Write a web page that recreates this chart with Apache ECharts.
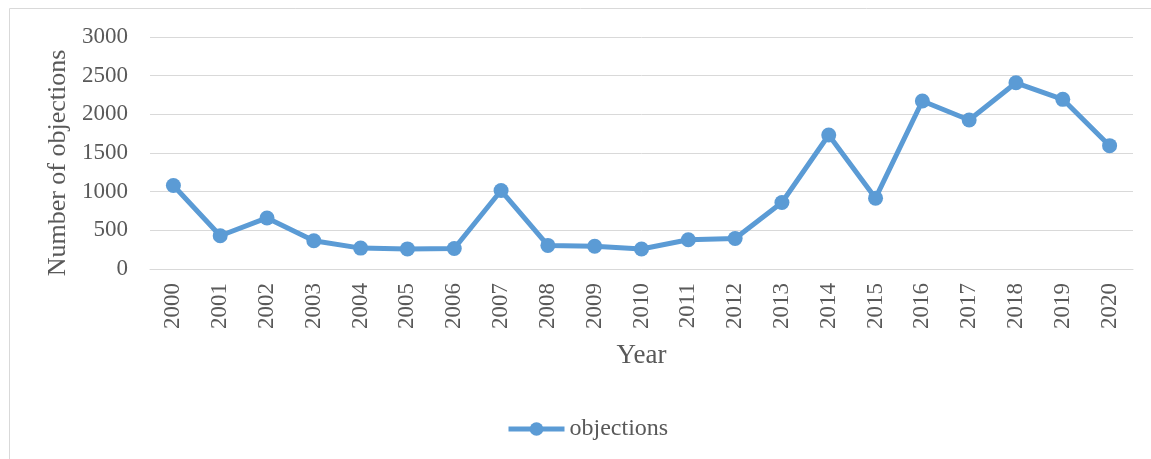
<!DOCTYPE html>
<html>
<head>
<meta charset="utf-8">
<script src="https://cdn.jsdelivr.net/npm/echarts@6/dist/echarts.min.js"></script>
<style>
  html, body { margin: 0; padding: 0; background: #fff; }
  #chart { width: 1151px; height: 459px; }
</style>
</head>
<body>
<div id="chart"></div>
<script>
  const years = ['2000', '2001', '2002', '2003', '2004', '2005', '2006', '2007', '2008', '2009', '2010',
    '2011', '2012', '2013', '2014', '2015', '2016', '2017', '2018', '2019', '2020'];
  const objections = [1080, 430, 660, 365, 270, 260, 265, 1015, 305, 295, 258,
    378, 395, 860, 1733, 916, 2172, 1927, 2408, 2194, 1595];

  const font = '"Liberation Serif", "Times New Roman", serif';
  const textColor = '#595959';

  const chart = echarts.init(document.getElementById('chart'));
  chart.setOption({
    animation: false,
    textStyle: { fontFamily: font },
    graphic: [
      {
        type: 'rect',
        shape: { x: 9.5, y: 8.5, width: 1300, height: 600 },
        style: { fill: 'none', stroke: '#d9d9d9', lineWidth: 1 },
        silent: true
      }
    ],
    grid: { left: 150, right: 18, top: 37, bottom: 190 },
    legend: {
      top: 412,
      left: 501,
      itemWidth: 56,
      itemHeight: 17,
      itemGap: 4,
      lineStyle: { width: 5 },
      textStyle: { fontFamily: font, fontSize: 24, color: textColor },
      data: ['objections']
    },
    xAxis: {
      type: 'category',
      data: years,
      name: 'Year',
      nameLocation: 'middle',
      nameGap: 73,
      nameTextStyle: { fontFamily: font, fontSize: 27, color: textColor },
      axisLine: { show: true, lineStyle: { color: '#d9d9d9', width: 1 } },
      axisTick: { show: false },
      axisLabel: { rotate: 90, fontSize: 23, color: textColor, fontFamily: font, margin: 14, interval: 0 }
    },
    yAxis: {
      type: 'value',
      min: 0,
      max: 3000,
      interval: 500,
      name: 'Number of objections',
      nameLocation: 'middle',
      nameGap: 77,
      nameTextStyle: { fontFamily: font, fontSize: 26, color: textColor, padding: [0, 20, 0, 0] },
      axisLine: { show: false },
      axisTick: { show: false },
      axisLabel: { fontSize: 23, color: textColor, fontFamily: font, margin: 22, formatter: v => String(v) },
      splitLine: { lineStyle: { color: '#d9d9d9', width: 1 } }
    },
    series: [
      {
        name: 'objections',
        type: 'line',
        data: objections,
        symbol: 'circle',
        symbolSize: 15,
        lineStyle: { color: '#5B9BD5', width: 5 },
        itemStyle: { color: '#5B9BD5' }
      }
    ]
  });
</script>
</body>
</html>
